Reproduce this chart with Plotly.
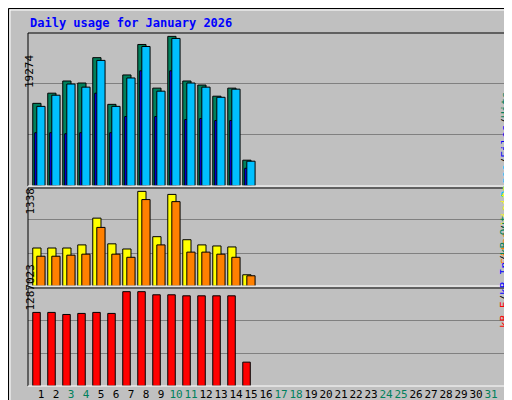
import plotly.graph_objects as go

days = list(range(1, 32))
data_days = list(range(1, 16))
hits = [10640, 11950, 13520, 13260, 16530, 10510, 14300, 18230, 12600, 19274, 13520, 13000, 11560, 12600, 3310]
files = [10250, 11690, 13130, 12730, 16180, 10250, 13910, 17970, 12210, 19010, 13260, 12730, 11420, 12470, 3180]
pages = [6850, 6850, 6720, 6850, 11950, 6850, 8940, 14830, 8940, 14830, 8550, 8680, 8420, 8420, 2270]
visits = [538, 538, 538, 582, 960, 597, 524, 1338, 698, 1295, 655, 582, 567, 553, 160]
sites = [422, 422, 437, 451, 829, 451, 407, 1222, 582, 1193, 480, 480, 451, 407, 146]
kbytes = [1004000, 1004000, 975800, 990000, 1004000, 990000, 1287023, 1287023, 1244500, 1244500,
          1230400, 1230400, 1230400, 1230400, 325300]
weekend = [3, 4, 10, 11, 17, 18, 24, 25, 31]
max_hits, max_visits, max_kb = 19274, 1338, 1287023

MONO = "DejaVu Sans Mono"
fig = go.Figure()

def bar(y, color, off, w, ax):
    fig.add_trace(go.Bar(x=data_days, y=y, offset=off, width=w, marker=dict(color=color, line=dict(color="black", width=1)),
                         xaxis="x", yaxis=ax, showlegend=False, hoverinfo="skip"))

bar(hits, "#00805c", -0.55, 0.55, "y")
bar(pages, "#0000ff", -0.42, 0.22, "y")
bar(files, "#00c0ff", -0.28, 0.55, "y")
bar(visits, "#ffff00", -0.55, 0.55, "y2")
bar(sites, "#ff8000", -0.28, 0.55, "y2")
bar(kbytes, "#ff0000", -0.55, 0.5, "y3")

r1 = max_hits * 452 / 442
r2 = max_visits * 289 / 276
r3 = max_kb * 284 / 273

def yax(dom, r):
    return dict(domain=dom, range=[0, r], tickvals=[r / 3, 2 * r / 3], showticklabels=False, automargin=False,
                showgrid=True, gridcolor="#808080", gridwidth=1, zeroline=False, fixedrange=True)

ticktext = [f"<span style='color:{'#00805c' if d in weekend else 'black'}'>{d}</span>" for d in days]

fig.update_layout(
    width=512, height=400, margin=dict(l=20, r=12, t=25, b=22, autoexpand=False),
    paper_bgcolor="#c0c0c0", plot_bgcolor="#c0c0c0", barmode="overlay",
    font=dict(family=MONO, size=11, color="black"),
    xaxis=dict(range=[0.133, 32.13], tickvals=days, ticktext=ticktext, ticks="", showgrid=False,
               zeroline=False, anchor="y3", tickangle=0, automargin=False, tickfont=dict(size=11)),
    yaxis=yax([0.567, 1], r1), yaxis2=yax([0.283, 0.564], r2), yaxis3=yax([0, 0.278], r3),
)

def px(x): return (x - 20) / 480
def py(y): return (378 - y) / 353

shapes = []
def line(x0, y0, x1, y1, c, w=1):
    shapes.append(dict(type="line", xref="paper", yref="paper", x0=px(x0), y0=py(y0), x1=px(x1), y1=py(y1),
                       line=dict(color=c, width=w)))
line(0.5, 0.5, 511.5, 0.5, "black"); line(0.5, 0.5, 0.5, 399.5, "black")
line(511.5, 0.5, 511.5, 399.5, "black"); line(0.5, 399.5, 511.5, 399.5, "black")
line(2, 2, 509, 2, "white"); line(2, 2, 2, 397, "white")
line(509, 2, 509, 397, "#808080"); line(2, 397, 509, 397, "#808080")
for top, bot in [(25, 178), (180, 278), (280, 378)]:
    line(20, top, 498, top, "black"); line(20, top, 20, bot, "black")
    line(20, bot, 498, bot, "white"); line(498, top, 498, bot, "white")
fig.update_layout(shapes=shapes)

ann = [
    dict(text="<b>Daily usage for January 2026</b>", x=px(20), y=py(15), xanchor="left", yanchor="middle",
         font=dict(color="#0000ff", size=12, family=MONO)),
    dict(text="19274", x=px(13), y=py(45), textangle=-90),
    dict(text="1338", x=px(13), y=py(193), textangle=-90),
    dict(text="1287023", x=px(13), y=py(305), textangle=-90),
    dict(text="<span style='color:#00c0ff'>Pages</span>/<span style='color:#0000ff'>Files</span>/<span style='color:#00805c'>Hits</span>",
         x=px(505), y=py(82), textangle=-90),
    dict(text="<span style='color:#ff8000'>Sites</span>/<span style='color:#ffff00'>Visits</span>",
         x=px(505), y=py(217), textangle=-90),
    dict(text="<span style='color:#ff0000'>kB F</span>/<span style='color:#0000ff'>kB In</span>/<span style='color:#00805c'>kB Out</span>",
         x=px(505), y=py(322), textangle=-90),
]
for a in ann:
    a.setdefault("font", dict(size=11, family=MONO, color="black"))
    a.update(xref="paper", yref="paper", showarrow=False)
fig.update_layout(annotations=ann)

fig.write_html("out.html")
